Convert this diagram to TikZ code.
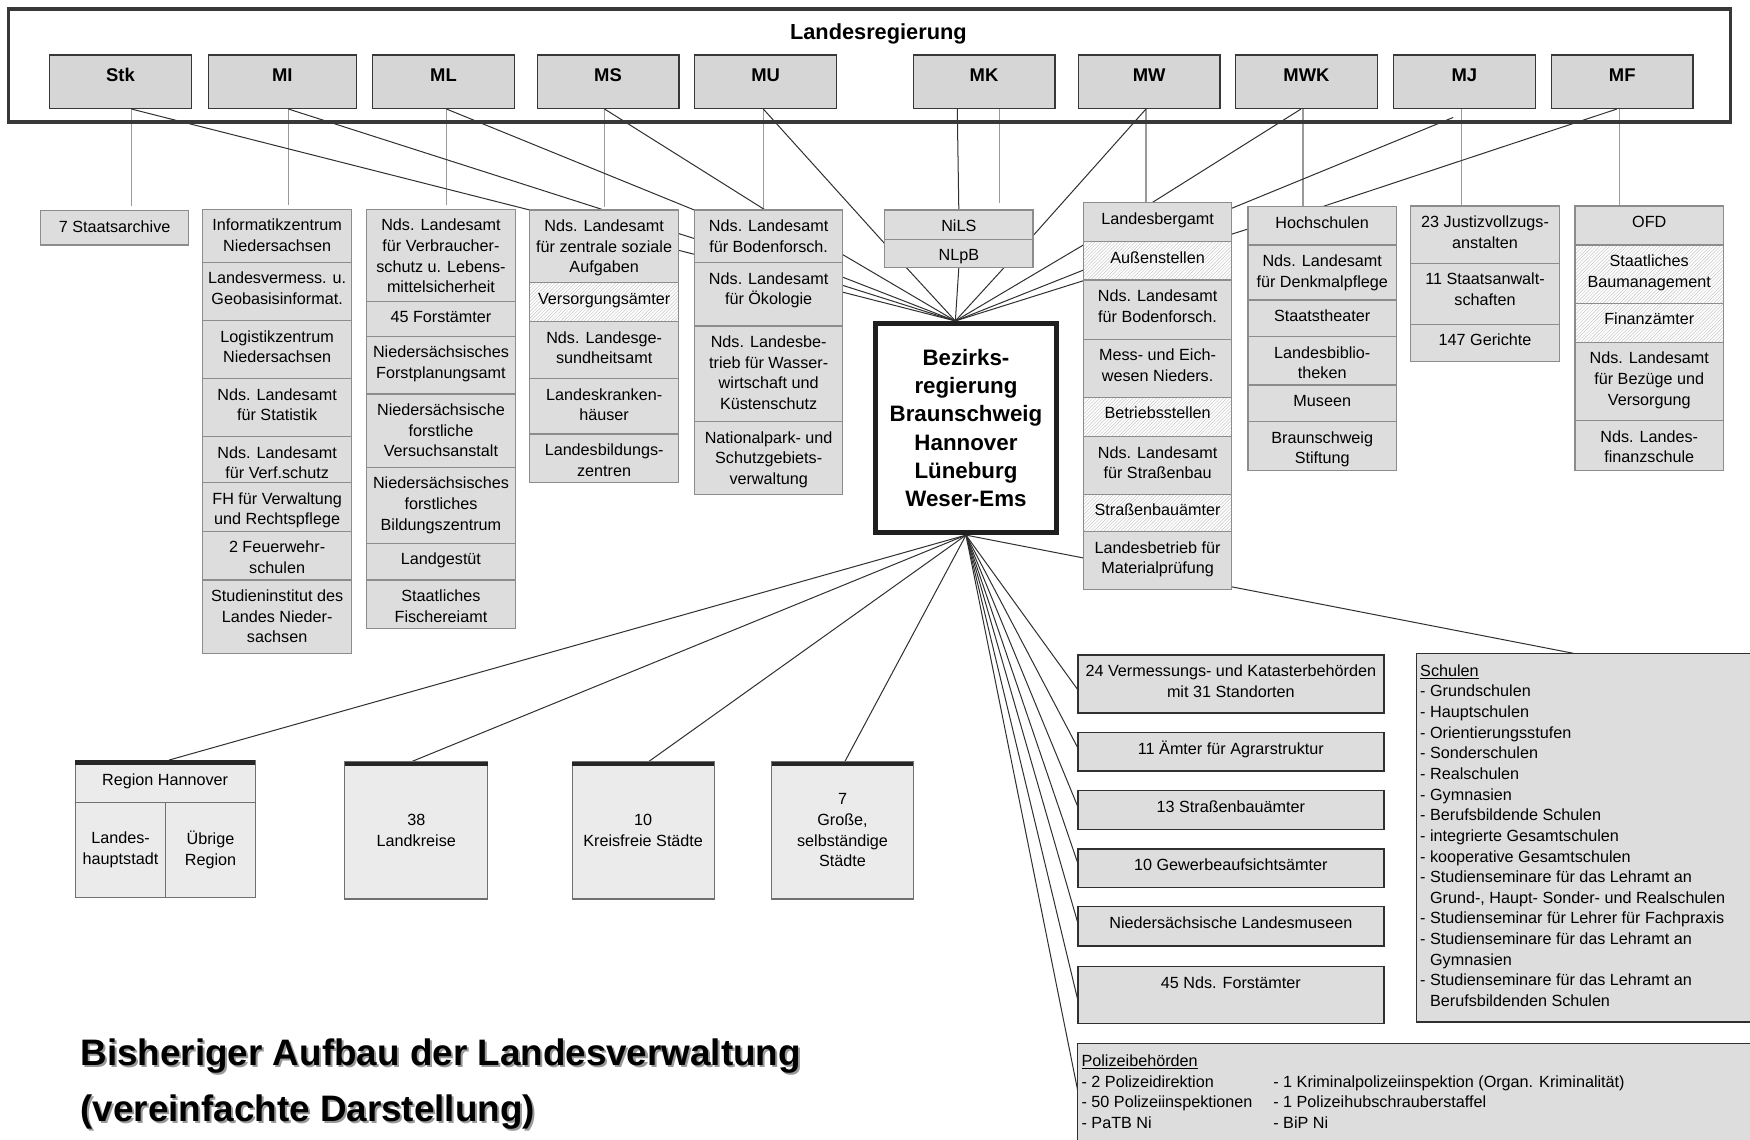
\documentclass[tikz,border=0pt]{standalone}
\usepackage{fontspec}
\setmainfont{Liberation Sans}
\usetikzlibrary{positioning, calc, backgrounds, patterns}

\definecolor{FrameLine}{HTML}{383838}
\definecolor{MinisterFill}{HTML}{D6D6D6}
\definecolor{CellFill}{HTML}{DDDDDD}
\definecolor{CellLine}{HTML}{8C8C8C}
\definecolor{LocalFill}{HTML}{EBEBEB}
\definecolor{LocalLine}{HTML}{707070}
\definecolor{LinkLine}{HTML}{303030}
\definecolor{StemLine}{HTML}{9A9A9A}
\colorlet{HatchLine}{black!22}

\newcommand{\cellfont}{\fontsize{14.5}{18.5}\selectfont}

\tikzset{
  cellw/.store in=\cellw, cellw=133pt,
  cellh/.store in=\cellh, cellh=30pt,
  cellbase/.style={draw=CellLine, line width=1pt, inner sep=0pt, outer sep=0pt, font=\cellfont,
    execute at begin node={\begin{minipage}[t][\cellh][t]{\cellw}\centering\vspace*{6.3pt}\strut\ignorespaces},
    execute at end node={\end{minipage}}},
  cell/.style={cellbase, fill=CellFill},
  hatch/.style={cellbase, preaction={fill=white}, pattern=north east lines, pattern color=HatchLine},
  listcell/.style={cell, draw=LinkLine, line width=1.3pt},
  listbox/.style={draw=LinkLine, fill=CellFill, line width=1.3pt, inner sep=0pt, outer sep=0pt, font=\cellfont,
    execute at begin node={\begin{minipage}[t][\cellh][t]{\cellw}\raggedright\leftskip=3.5pt\vspace*{7.5pt}\strut\ignorespaces},
    execute at end node={\end{minipage}}},
  minister/.style={draw=FrameLine, fill=MinisterFill, line width=1.1pt, minimum width=127pt, minimum height=48pt,
    inner sep=0pt, text height=24pt, text depth=24pt, font=\fontsize{16.5}{20}\selectfont\bfseries},
  govframe/.style={draw=FrameLine, line width=3.2pt, inner sep=0pt},
  bezirk/.style={draw=black!88, fill=white, line width=4.2pt, minimum width=162pt, minimum height=187.7pt,
    inner sep=0pt, align=center, font=\fontsize{20}{25.4}\selectfont\bfseries},
  local/.style={draw=LocalLine, fill=LocalFill, line width=1pt, inner sep=0pt, outer sep=0pt, align=center, font=\cellfont},
  topbar/.style={draw=black!85, line width=4pt},
  link/.style={draw=LinkLine, line width=0.9pt},
  stem/.style={draw=StemLine, line width=1.4pt},
  titletext/.style={anchor=base west, inner sep=0pt, font=\fontsize{33}{40}\selectfont\bfseries},
}

\begin{document}
\begin{tikzpicture}[x=1pt, y=-1pt]

  \useasboundingbox (0,0) rectangle (1568,1021);
  \clip (0,0) rectangle (1568,1021);

  % Landesregierung mit Ministerien
  \node[govframe, minimum width=1542.6pt, minimum height=101pt] (landesreg) at (779.1,58.6) {};
  \node[font=\fontsize{19.5}{22}\selectfont\bfseries, anchor=base] (lrtitle) at (787,35) {Landesregierung};

  \node[minister] (stk) at (108,73.2) {Stk};
  \node[minister, minimum width=133pt] (mi) at (253,73.2) {MI};
  \node[minister] (ml) at (397.4,73.2) {ML};
  \node[minister] (ms) at (544.8,73.2) {MS};
  \node[minister] (mu) at (686,73.2) {MU};
  \node[minister] (mk) at (881.7,73.2) {MK};
  \node[minister] (mw) at (1029.7,73.2) {MW};
  \node[minister] (mwk) at (1170.6,73.2) {MWK};
  \node[minister] (mj) at (1312,73.2) {MJ};
  \node[minister] (mf) at (1453.5,73.2) {MF};

  % Staatskanzlei
  \node[cell, cellh=30.7pt, anchor=north west] (arch) at (36.2,188.8) {7 Staatsarchive};

  % Innenministerium
  \node[cell, cellh=47.5pt, anchor=north west] (mi1) at (181.8,187.6) {Informatikzentrum\\Niedersachsen};
  \node[cell, cellh=52.2pt, below=0pt of mi1] (mi2) {Landesvermess. u.\\Geobasisinformat.};
  \node[cell, cellh=52pt, below=0pt of mi2] (mi3) {Logistikzentrum\\Niedersachsen};
  \node[cell, cellh=52pt, below=0pt of mi3] (mi4) {Nds. Landesamt\\für Statistik};
  \node[cell, cellh=41.2pt, below=0pt of mi4] (mi5) {Nds. Landesamt\\für Verf.schutz};
  \node[cell, cellh=43.6pt, below=0pt of mi5] (mi6) {FH für Verwaltung\\und Rechtspflege};
  \node[cell, cellh=43.6pt, below=0pt of mi6] (mi7) {2 Feuerwehr-\\schulen};
  \node[cell, cellh=65.7pt, below=0pt of mi7] (mi8) {Studieninstitut des\\Landes Nieder-\\sachsen};

  % Landwirtschaft
  \node[cell, cellh=82.4pt, anchor=north west] (ml1) at (328.6,187.6) {Nds. Landesamt\\für Verbraucher-\\schutz u. Lebens-\\mittelsicherheit};
  \node[cell, cellh=31.1pt, below=0pt of ml1] (ml2) {45 Forstämter};
  \node[cell, cellh=51.9pt, below=0pt of ml2] (ml3) {Niedersächsisches\\Forstplanungsamt};
  \node[cell, cellh=65.8pt, below=0pt of ml3] (ml4) {Niedersächsische\\forstliche\\Versuchsanstalt};
  \node[cell, cellh=68.1pt, below=0pt of ml4] (ml5) {Niedersächsisches\\forstliches\\Bildungszentrum};
  \node[cell, cellh=32.8pt, below=0pt of ml5] (ml6) {Landgestüt};
  \node[cell, cellh=43.6pt, below=0pt of ml6] (ml7) {Staatliches\\Fischereiamt};

  % Soziales
  \node[cell, cellh=65.1pt, anchor=north west] (ms1) at (474.8,188.2) {Nds. Landesamt\\für zentrale soziale\\Aufgaben};
  \node[hatch, cellh=34.9pt, below=0pt of ms1] (ms2) {Versorgungsämter};
  \node[cell, cellh=51.1pt, below=0pt of ms2] (ms3) {Nds. Landesge-\\sundheitsamt};
  \node[cell, cellh=49.6pt, below=0pt of ms3] (ms4) {Landeskranken-\\häuser};
  \node[cell, cellh=43.6pt, below=0pt of ms4] (ms5) {Landesbildungs-\\zentren};

  % Umwelt
  \node[cell, cellh=47.2pt, anchor=north west] (mu1) at (622.2,188.2) {Nds. Landesamt\\für Bodenforsch.};
  \node[cell, cellh=56.7pt, below=0pt of mu1] (mu2) {Nds. Landesamt\\für Ökologie};
  \node[cell, cellh=85.7pt, below=0pt of mu2] (mu3) {Nds. Landesbe-\\trieb für Wasser-\\wirtschaft und\\Küstenschutz};
  \node[cell, cellh=65.2pt, below=0pt of mu3] (mu4) {Nationalpark- und\\Schutzgebiets-\\verwaltung};

  % Kultus
  \node[cell, cellh=26pt, anchor=north west] (nils) at (792.6,188.2) {NiLS};
  \node[cell, cellh=25.6pt, below=0pt of nils] (nlpb) {NLpB};

  % Wirtschaft
  \node[cell, cellh=34.9pt, anchor=north west] (mw1) at (970.7,181.6) {Landesbergamt};
  \node[hatch, cellh=34.4pt, below=0pt of mw1] (mw2) {Außenstellen};
  \node[cell, cellh=52.9pt, below=0pt of mw2] (mw3) {Nds. Landesamt\\für Bodenforsch.};
  \node[cell, cellh=52.2pt, below=0pt of mw3] (mw4) {Mess- und Eich-\\wesen Nieders.};
  \node[hatch, cellh=35.3pt, below=0pt of mw4] (mw5) {Betriebsstellen};
  \node[cell, cellh=51.7pt, below=0pt of mw5] (mw6) {Nds. Landesamt\\für Straßenbau};
  \node[hatch, cellh=33.4pt, below=0pt of mw6] (mw7) {Straßenbauämter};
  \node[cell, cellh=51.4pt, below=0pt of mw7] (mw8) {Landesbetrieb für\\Materialprüfung};

  % Wissenschaft und Kultur
  \node[cell, cellh=34.3pt, anchor=north west] (mwk1) at (1118.2,185.2) {Hochschulen};
  \node[cell, cellh=49.3pt, below=0pt of mwk1] (mwk2) {Nds. Landesamt\\für Denkmalpflege};
  \node[cell, cellh=32.9pt, below=0pt of mwk2] (mwk3) {Staatstheater};
  \node[cell, cellh=43.3pt, below=0pt of mwk3] (mwk4) {Landesbiblio-\\theken};
  \node[cell, cellh=32.8pt, below=0pt of mwk4] (mwk5) {Museen};
  \node[cell, cellh=43.9pt, below=0pt of mwk5] (mwk6) {Braunschweig\\Stiftung};

  % Justiz
  \node[cell, cellh=51.4pt, anchor=north west] (mj1) at (1264.1,184.6) {23 Justizvollzugs-\\anstalten};
  \node[cell, cellh=54.6pt, below=0pt of mj1] (mj2) {11 Staatsanwalt-\\schaften};
  \node[cell, cellh=32.9pt, below=0pt of mj2] (mj3) {147 Gerichte};

  % Finanzen
  \node[cell, cellh=34.9pt, anchor=north west] (mf1) at (1411.2,184.6) {OFD};
  \node[hatch, cellh=52.3pt, below=0pt of mf1] (mf2) {Staatliches\\Baumanagement};
  \node[hatch, cellh=35pt, below=0pt of mf2] (mf3) {Finanzämter};
  \node[cell, cellh=70.1pt, below=0pt of mf3] (mf4) {Nds. Landesamt\\für Bezüge und\\Versorgung};
  \node[cell, cellh=44.8pt, below=0pt of mf4] (mf5) {Nds. Landes-\\finanzschule};

  % Bezirksregierung
  \node[bezirk] (bez) at (865.5,383.5) {Bezirks-\\regierung\\Braunschweig\\Hannover\\Lüneburg\\Weser-Ems};

  % Kommunen
  \node[local, minimum width=161.2pt, minimum height=38.2pt] (rhtop) at (148,700.1) {Region Hannover};
  \node[local, minimum width=81.2pt, minimum height=84.8pt, anchor=north west] (rhl) at (rhtop.south west) {Landes-\\hauptstadt};
  \node[local, minimum width=80pt, minimum height=84.8pt, anchor=north east] (rhr) at (rhtop.south east) {Übrige\\Region};
  \node[local, minimum width=128pt, minimum height=123pt] (lk) at (373,744) {38\\Landkreise};
  \node[local, minimum width=127.4pt, minimum height=123pt] (kf) at (576.3,744) {10\\Kreisfreie Städte};
  \node[local, minimum width=126.9pt, minimum height=123pt] (gs) at (754.9,744) {7\\Große,\\selbständige\\Städte};
  \draw[topbar] ($(rhtop.north west)+(0,2)$) -- ($(rhtop.north east)+(0,2)$);
  \draw[topbar] ($(lk.north west)+(0,2)$) -- ($(lk.north east)+(0,2)$);
  \draw[topbar] ($(kf.north west)+(0,2)$) -- ($(kf.north east)+(0,2)$);
  \draw[topbar] ($(gs.north west)+(0,2)$) -- ($(gs.north east)+(0,2)$);

  % Sonderbehoerden unter der Bezirksregierung
  \begin{scope}[cellw=274.3pt]
    \node[listcell, cellh=52pt, anchor=north west] (vkb) at (965.7,587) {24 Vermessungs- und Katasterbehörden\\mit 31 Standorten};
    \node[listcell, cellh=34.3pt, anchor=north west] (agr) at (965.7,656.5) {11 Ämter für Agrarstruktur};
    \node[listcell, cellh=34.5pt, anchor=north west] (sba) at (965.7,708.5) {13 Straßenbauämter};
    \node[listcell, cellh=34.3pt, anchor=north west] (gew) at (965.7,760.7) {10 Gewerbeaufsichtsämter};
    \node[listcell, cellh=35pt, anchor=north west] (lmus) at (965.7,812.4) {Niedersächsische Landesmuseen};
    \node[listcell, cellh=51pt, anchor=north west] (nfa) at (965.7,866) {45 Nds. Forstämter};
  \end{scope}

  \node[listbox, cellw=360pt, cellh=330.1pt, anchor=north west] (schul) at (1269,585.4) {\underline{Schulen}\\
    - Grundschulen\\
    - Hauptschulen\\
    - Orientierungsstufen\\
    - Sonderschulen\\
    - Realschulen\\
    - Gymnasien\\
    - Berufsbildende Schulen\\
    - integrierte Gesamtschulen\\
    - kooperative Gesamtschulen\\
    - Studienseminare für das Lehramt an\\
    \hphantom{- }Grund-, Haupt- Sonder- und Realschulen\\
    - Studienseminar für Lehrer für Fachpraxis\\
    - Studienseminare für das Lehramt an\\
    \hphantom{- }Gymnasien\\
    - Studienseminare für das Lehramt an\\
    \hphantom{- }Berufsbildenden Schulen};

  \node[listbox, cellw=660pt, cellh=110pt, anchor=north west] (pol) at (965.6,935) {%
    \begin{tabular}[t]{@{}p{171.8pt}@{}l@{}}
      \underline{Polizeibehörden} & \\
      - 2 Polizeidirektion & - 1 Kriminalpolizeiinspektion (Organ. Kriminalität)\\
      - 50 Polizeiinspektionen & - 1 Polizeihubschrauberstaffel\\
      - PaTB Ni & - BiP Ni
    \end{tabular}};

  % Titel
  \node[titletext, text=black!40] (title1s) at (73.8,956.8) {Bisheriger Aufbau der Landesverwaltung};
  \node[titletext] (title1) at (72,955) {Bisheriger Aufbau der Landesverwaltung};
  \node[titletext, text=black!40] (title2s) at (73.8,1006.3) {(vereinfachte Darstellung)};
  \node[titletext] (title2) at (72,1004.5) {(vereinfachte Darstellung)};

  \begin{scope}[on background layer]
    % Ministerien zu ihren Behoerden
    \coordinate (stkstem) at ($(stk.south)+(10,0)$);
    \coordinate (mistem) at ($(mi.south)+(5.6,0)$);
    \coordinate (mlstem) at ($(ml.south)+(2.8,0)$);
    \coordinate (msstem) at ($(ms.south)+(-3,0)$);
    \coordinate (mustem) at ($(mu.south)+(-2,0)$);
    \coordinate (mkstem) at ($(mk.south)+(13.7,0)$);
    \coordinate (mkend) at ($(mkstem)+(0,84)$);
    \coordinate (mklink) at ($(mk.south)+(-24,0)$);
    \coordinate (mwstem) at ($(mw.south)+(-3,0)$);
    \coordinate (mwkstem) at ($(mwk.south)+(-3,0)$);
    \coordinate (mwklink) at ($(mwk.south)+(-5,0)$);
    \coordinate (mjstem) at ($(mj.south)+(-2.5,0)$);
    \coordinate (mjlink) at ($(mj.south)+(-10,7.5)$);
    \coordinate (mfstem) at ($(mf.south)+(-2.5,0)$);
    \coordinate (mflink) at ($(mf.south)+(-5,0)$);

    \draw[stem, shorten >=4pt] (stkstem) -- (stkstem |- arch.north);
    \draw[stem, shorten >=4pt] (mistem) -- (mistem |- mi1.north);
    \draw[stem, shorten >=4pt] (mlstem) -- (mlstem |- ml1.north);
    \draw[stem, shorten >=3pt] (msstem) -- (msstem |- ms1.north);
    \draw[stem] (mustem) -- (mustem |- mu1.north);
    \draw[stem] (mkstem) -- (mkend);
    \draw[stem] (mwstem) -- (mwstem |- mw1.north);
    \draw[stem] (mwkstem) -- (mwkstem |- mwk1.north);
    \draw[stem] (mjstem) -- (mjstem |- mj1.north);
    \draw[stem] (mfstem) -- (mfstem |- mf1.north);

    \draw[link] (stkstem) -- (ms1.north west);
    \draw[link] (mistem) -- (ms1.north);
    \draw[link] (mlstem) -- (mu1.north west);
    \draw[link] (msstem) -- ($(mu1.north)+(-3,0)$);
    \draw[link] (mustem) -- ($(nlpb.north west)+(0,4)$);
    \draw[link] (mklink) -- (nils.north);
    \draw[link] (mwstem) -- ($(nils.south east)+(0,-3)$);
    \draw[link] (mwklink) -- ($(mw1.north)+(-5,0)$);
    \draw[link] (mjlink) -- ($(mw1.north east)+(0,5)$);
    \draw[link] (mflink) -- (mwk1.north);

    % Behoerden zur Bezirksregierung
    \coordinate (bzin) at ($(bez.north)+(-9.5,0)$);
    \draw[link] ($(ms1.north east)+(0,21)$) -- (bzin);
    \draw[link] ($(ms1.north east)+(0,36)$) -- (bzin);
    \draw[link] ($(mu1.north east)+(0,40)$) -- (bzin);
    \draw[link] ($(mu2.north east)+(0,13)$) -- (bzin);
    \draw[link] ($(nlpb.south west)+(19.5,0)$) -- (bzin);
    \draw[link] (nlpb.south) -- (bzin);
    \draw[link] ($(nlpb.south east)+(-26,0)$) -- (bzin);
    \draw[link] ($(mw2.north west)+(0,3)$) -- (bzin);
    \draw[link] ($(mw2.north west)+(0,25.5)$) -- (bzin);
    \draw[link] ($(mwk1.north west)+(0,20)$) -- (bzin);

    % Bezirksregierung nach unten
    \coordinate (bzout) at (bez.south);
    \draw[link] (bzout) -- ($(rhtop.north)+(3.5,0)$);
    \draw[link] (bzout) -- ($(lk.north)+(-4.5,0)$);
    \draw[link] (bzout) -- ($(kf.north)+(4.7,0)$);
    \draw[link] (bzout) -- ($(gs.north)+(2,0)$);
    \draw[link] (bzout) -- ($(schul.north west)+(141,0)$);
    \draw[link] (bzout) -- ($(vkb.west)+(0,5)$);
    \draw[link] (bzout) -- ($(agr.west)+(0,-3.6)$);
    \draw[link] (bzout) -- ($(sba.west)+(0,-3)$);
    \draw[link] (bzout) -- ($(gew.west)+(0,-4.4)$);
    \draw[link] (bzout) -- ($(lmus.west)+(0,-3)$);
    \draw[link] (bzout) -- ($(nfa.west)+(0,4.5)$);
    \draw[link] (bzout) -- ($(pol.north west)+(0,42)$);
  \end{scope}

\end{tikzpicture}
\end{document}
